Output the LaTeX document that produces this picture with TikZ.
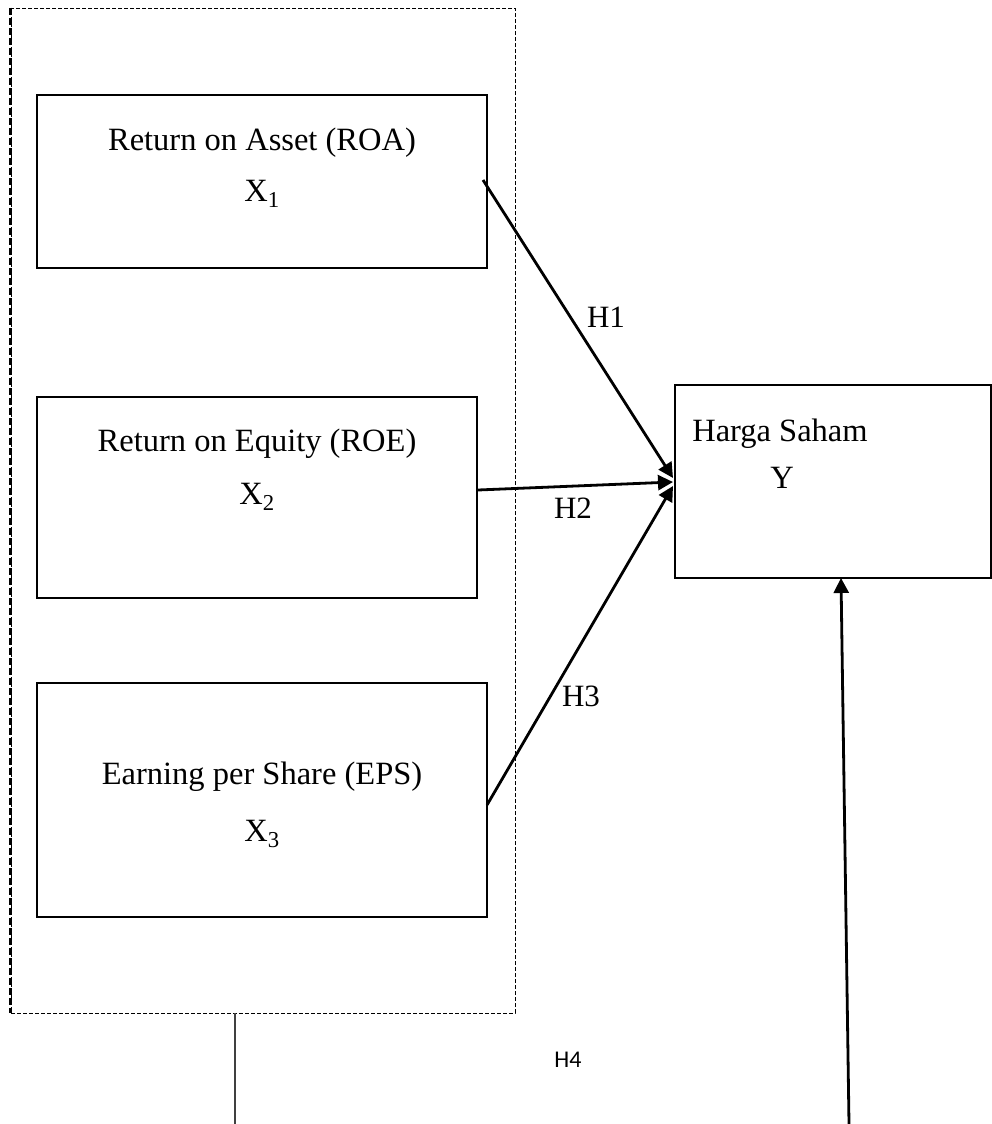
\documentclass[tikz,border=0pt]{standalone}
\usepackage{fontspec}
\setmainfont{Liberation Serif}
\newfontfamily\calibrifont{Carlito}
\usetikzlibrary{arrows.meta}
\begin{document}
\begin{tikzpicture}[x=1pt,y=-1pt,
  varbox/.style={draw,line width=1.8pt,inner sep=0pt},
  lbl/.style={font=\fontsize{32.5}{38}\selectfont,inner sep=0pt},
  hlbl/.style={font=\fontsize{31}{36}\selectfont,inner sep=0pt},
  conn/.style={line width=2.8pt,-{Triangle[length=15pt,width=15pt]}}]
\useasboundingbox (0,0) rectangle (992,1124);
% group (dashed) box
\node[draw,line width=0.9pt,dash pattern=on 4pt off 2pt,inner sep=0pt,
      minimum width=504pt,minimum height=1005pt] (grp) at (263,510.5) {};
\draw[line width=2.4pt,dash pattern=on 7pt off 3pt] (grp.north west) -- (grp.south west);
% variable boxes
\node[varbox,minimum width=450pt,minimum height=173pt] (b1) at (262,181.5) {};
\node[varbox,minimum width=440pt,minimum height=201pt] (b2) at (257,497.5) {};
\node[varbox,minimum width=450pt,minimum height=234pt] (b3) at (262,800) {};
\node[varbox,minimum width=316pt,minimum height=193pt] (hs) at (833,481.5) {};
% texts
\node[lbl] (t1) at (262,143) {Return on Asset (ROA)};
\node[lbl] (x1) at (262,194) {X\textsubscript{1}};
\node[lbl] (t2) at (257,444) {Return on Equity (ROE)};
\node[lbl] (x2) at (257,497) {X\textsubscript{2}};
\node[lbl] (t3) at (262,777) {Earning per Share (EPS)};
\node[lbl] (x3) at (262,834) {X\textsubscript{3}};
\node[lbl] (th) at (780,434) {Harga Saham};
\node[lbl] (ty) at (782,478) {Y};
% connector end points
\coordinate (s1) at (483,180);
\coordinate (s2) at (478,490);
\coordinate (s3) at (487,805);
\coordinate (e1) at (673,478);
\coordinate (e2) at (673,482);
\coordinate (e3) at (673,486);
\draw[conn] (s1) -- (e1);
\draw[conn] (s2) -- (e2);
\draw[conn] (s3) -- (e3);
\node[hlbl] (h1) at (606,317) {H1};
\node[hlbl] (h2) at (573,508) {H2};
\node[hlbl] (h3) at (581,696) {H3};
\node[font=\calibrifont\fontsize{24}{28}\selectfont,inner sep=0pt] (h4) at (568,1060) {H4};
% bottom connectors
\coordinate (bl) at (235,1124);
\draw[line width=1.3pt,black!75] (grp.south -| bl) -- (bl);
\coordinate (br) at (849,1124);
\coordinate (bt) at (841,578);
\draw[conn] (br) -- (bt);
\end{tikzpicture}
\end{document}
